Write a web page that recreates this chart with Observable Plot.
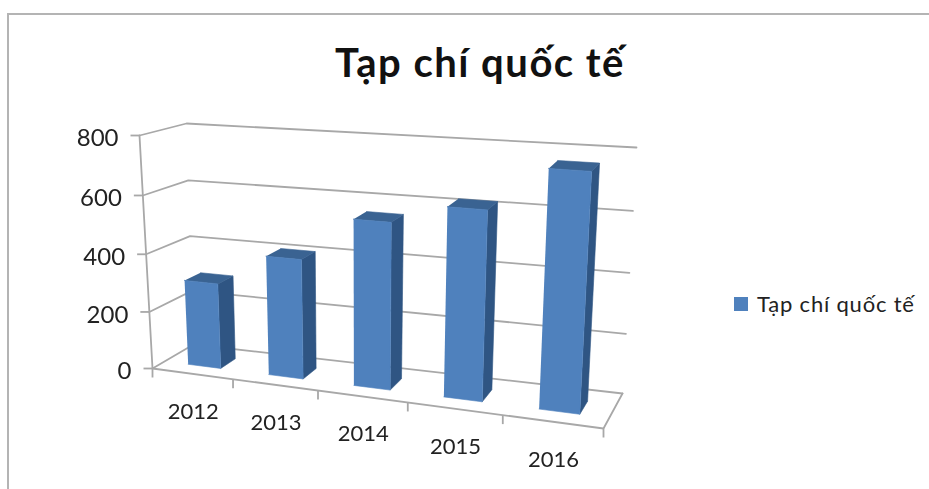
<!DOCTYPE html>
<html lang="vi">
<head>
<meta charset="utf-8">
<title>Tạp chí quốc tế</title>
<style>
  html, body { margin: 0; padding: 0; background: #fff; overflow: hidden; }
  #stage { position: relative; width: 929px; height: 489px; overflow: hidden; font-family: Lato, "Noto Sans", sans-serif; }
  #frame { position: absolute; left: 7px; top: 13px; width: 940px; height: 500px; border: 2px solid #b4b4b4; box-sizing: border-box; }
  #chart { position: absolute; left: 0; top: 0; }
  #chart svg { display: block; background: transparent; filter: blur(0.45px); }
  #heading { position: absolute; left: 280px; width: 400px; top: 38px; margin: 0; text-align: center; font-size: 40px; letter-spacing: 1.5px; line-height: 48px; font-weight: 700; color: #111; }
  #legend { position: absolute; left: 734px; top: 289px; display: flex; align-items: center; font-size: 22px; letter-spacing: 0.8px; line-height: 30px; color: #222; }
  #legend i { width: 14px; height: 14px; background: #4f81bd; margin-right: 9px; display: block; }
</style>
<script src="https://cdn.jsdelivr.net/npm/d3@7"></script>
<script src="https://cdn.jsdelivr.net/npm/@observablehq/plot@0.6"></script>
</head>
<body>
<div id="stage">
  <div id="frame"></div>
  <div id="chart"></div>
  <h1 id="heading">Tạp chí quốc tế</h1>
  <div id="legend"><i></i><span>Tạp chí quốc tế</span></div>
</div>
<script>
// Data
const years = ["2012", "2013", "2014", "2015", "2016"];
const journals = [298, 410, 560, 625, 768];
const valueTicks = [0, 200, 400, 600, 800];
const valueMax = 800;

// The 3-D view: where the cube's corners land on the page
const view = {
  floor: {fl: [152, 368], fr: [603, 428], bl: [193, 344], br: [622, 393]},
  roof:  {fl: [139, 135], fr: [617, 169], bl: [186, 123], br: [636, 147]}
};
const mix = (a, b, t) => a + (b - a) * t;
const warp = (t, k) => t / (1 + k * (1 - t));
function project(cat, value, depth) {
  const u = warp(cat / years.length, 0.15);
  const v = warp(value / valueMax, 0.04);
  const corner = (plane, axis) => mix(
    mix(plane.fl[axis], plane.fr[axis], u),
    mix(plane.bl[axis], plane.br[axis], u), depth);
  return {
    x: mix(corner(view.floor, 0), corner(view.roof, 0), v),
    y: mix(corner(view.floor, 1), corner(view.roof, 1), v)
  };
}

const barStart = 0.3, barEnd = 0.71, depthStart = 0.3, depthEnd = 0.68;
const tickLength = 9;

function face(corners) {
  return (d, i) => corners(i + barStart, i + barEnd, d).map(([c, val, w]) => ({id: i, ...project(c, val, w)}));
}
const frontFaces = journals.flatMap(face((a, b, d) => [[a, 0, depthStart], [b, 0, depthStart], [b, d, depthStart], [a, d, depthStart]]));
const sideFaces  = journals.flatMap(face((a, b, d) => [[b, 0, depthStart], [b, 0, depthEnd], [b, d, depthEnd], [b, d, depthStart]]));
const topFaces   = journals.flatMap(face((a, b, d) => [[a, d, depthStart], [b, d, depthStart], [b, d, depthEnd], [a, d, depthEnd]]));

const gridLines = valueTicks.flatMap(t => [
  {id: t, ...project(0, t, 0)},
  {id: t, ...project(0, t, 1)},
  {id: t, ...project(years.length, t, 1)}
]);
const floorEdge = [
  project(0, 0, 0),
  project(years.length, 0, 0),
  project(years.length, 0, 1)
];
const wallEdge = [project(0, 0, 0), project(0, valueMax, 0)];
const yTickRows = valueTicks.map(t => ({label: String(t), ...project(0, t, 0)}));
const xTickRows = d3.range(years.length + 1).map(i => project(i, 0, 0));
const yearRows = years.map((label, i) => ({label, ...project(i + 0.5, 0, 0)}));

const gridColor = "#a8a8a8";
const lineWidth = 1.8;
const faceEdge = 0.6;
const chart = Plot.plot({
  width: 929,
  height: 489,
  margin: 0,
  style: {fontFamily: "Lato, 'Noto Sans', sans-serif"},
  x: {domain: [0, 929], range: [0, 929], axis: null},
  y: {domain: [0, 489], range: [0, 489], axis: null},
  marks: [
    Plot.line(gridLines, {x: "x", y: "y", z: "id", stroke: gridColor, strokeWidth: lineWidth}),
    Plot.line(floorEdge, {x: "x", y: "y", stroke: gridColor, strokeWidth: lineWidth}),
    Plot.line(wallEdge, {x: "x", y: "y", stroke: gridColor, strokeWidth: lineWidth}),
    Plot.link(xTickRows, {x1: "x", y1: "y", x2: "x", y2: d => d.y + tickLength, stroke: gridColor, strokeWidth: lineWidth}),
    Plot.link(yTickRows, {x1: "x", y1: "y", x2: d => d.x - tickLength, y2: "y", stroke: gridColor, strokeWidth: lineWidth}),
    Plot.line(sideFaces, {x: "x", y: "y", z: "id", fill: "#2f5583", stroke: "#2f5583", strokeWidth: faceEdge}),
    Plot.line(topFaces, {x: "x", y: "y", z: "id", fill: "#3a6392", stroke: "#3a6392", strokeWidth: faceEdge}),
    Plot.line(frontFaces, {x: "x", y: "y", z: "id", fill: "#4f81bd", stroke: "#4f81bd", strokeWidth: faceEdge}),
    Plot.text(yTickRows, {x: "x", y: "y", text: "label", textAnchor: "end", dx: -21, dy: 3, fontSize: 24, fill: "#222"}),
    Plot.text(yearRows, {x: "x", y: "y", text: "label", dx: 1, dy: 38, fontSize: 22, fill: "#222"})
  ]
});
document.getElementById("chart").append(chart);
</script>
</body>
</html>
